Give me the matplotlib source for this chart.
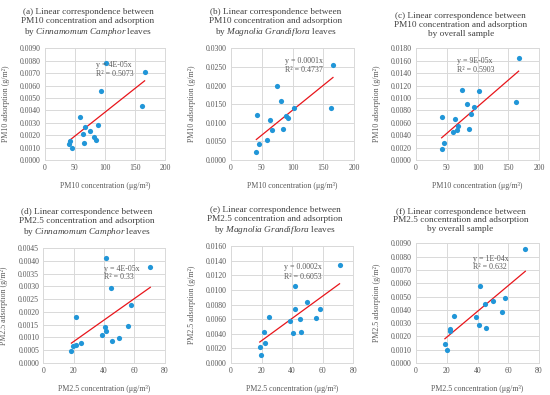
import numpy as np
import matplotlib
matplotlib.use('Agg')
import matplotlib.pyplot as plt
from matplotlib.ticker import MultipleLocator, FormatStrFormatter

plt.rcParams['font.family'] = ['Liberation Serif', 'DejaVu Serif']
plt.rcParams['mathtext.fontset'] = 'custom'
plt.rcParams['mathtext.rm'] = 'Liberation Serif'
plt.rcParams['mathtext.it'] = 'Liberation Serif:italic'

# PM10 concentration (ug/m3) and adsorption (g/m2)
pm10_x_camphor = [101.7, 165.7, 92.8, 160.8, 58.6, 88.4, 67.4, 74.6, 63.0, 81.8, 85.1, 42.0, 40.9, 65.7, 45.3]
pm10_y_camphor = [0.00785, 0.00712, 0.00554, 0.00433, 0.00347, 0.00280, 0.00269, 0.00237, 0.00210,
                  0.00188, 0.00164, 0.00153, 0.00129, 0.00140, 0.00093]
pm10_x_magnolia = [165.4, 75.1, 81.6, 101.6, 161.6, 41.6, 62.7, 88.6, 93.0, 67.0, 84.9, 58.9, 44.9, 41.1]
pm10_y_magnolia = [0.0256, 0.0198, 0.0158, 0.0141, 0.0141, 0.0121, 0.0108, 0.0119, 0.0114, 0.0080,
                   0.0082, 0.0054, 0.0042, 0.0021]
pm10_x_overall = [166.5, 75.1, 102.7, 82.7, 93.5, 162.7, 89.7, 42.2, 63.8, 67.6, 66.5, 59.5, 85.4, 45.4, 41.6]
pm10_y_overall = [0.0164, 0.0112, 0.0111, 0.0090, 0.0086, 0.0093, 0.0074, 0.0069, 0.0066, 0.0055,
                  0.0049, 0.0045, 0.0050, 0.0027, 0.0018]

# PM2.5
pm25_x_camphor = [41.3, 70.5, 44.4, 57.6, 21.5, 55.6, 40.4, 41.5, 38.5, 49.7, 45.5, 24.6, 21.3, 19.8, 18.5]
pm25_y_camphor = [0.00412, 0.00374, 0.00292, 0.00226, 0.00181, 0.00146, 0.00140, 0.00124, 0.00111,
                  0.00096, 0.00086, 0.00080, 0.00072, 0.00066, 0.00047]
pm25_x_magnolia = [71.0, 41.9, 50.0, 41.9, 58.1, 24.9, 38.6, 45.0, 55.9, 21.8, 40.8, 46.1, 22.1, 18.8, 19.9]
pm25_y_magnolia = [0.0135, 0.0105, 0.0083, 0.0074, 0.0074, 0.0063, 0.0057, 0.0060, 0.0062, 0.0043,
                   0.0041, 0.0042, 0.0028, 0.0022, 0.0011]
pm25_x_overall = [71.1, 41.7, 45.0, 50.0, 57.9, 55.9, 24.9, 38.8, 40.8, 45.8, 21.8, 21.8, 18.8, 19.9]
pm25_y_overall = [0.00855, 0.00580, 0.00447, 0.00467, 0.00485, 0.00387, 0.00357, 0.00345, 0.00282,
                  0.00262, 0.00255, 0.00240, 0.00143, 0.00098]

# trendline slopes (intercept 0) and labels
slopes = [3.85e-5, 1.34e-4, 8.6e-5, 4.2e-5, 1.53e-4, 9.7e-5]
eq_labels = ['y = 4E-05x', 'y = 0.0001x', 'y = 9E-05x', 'y = 4E-05x', 'y = 0.0002x', 'y = 1E-04x']
r2_labels = ['R² = 0.5073', 'R² = 0.4737', 'R² = 0.5903', 'R² = 0.33', 'R² = 0.6053', 'R² = 0.632']

titles = [
    '(a) Linear correspondence between\nPM10 concentration and adsorption\nby $\\it{Cinnamomum\\ Camphor}$ leaves',
    '(b) Linear correspondence between\nPM10 concentration and adsorption\nby $\\it{Magnolia\\ Grandiflora}$ leaves',
    '(c) Linear correspondence between\nPM10 concentration and adsorption\nby overall sample',
    '(d) Linear correspondence between\nPM2.5 concentration and adsorption\nby $\\it{Cinnamomum\\ Camphor}$ leaves',
    '(e) Linear correspondence between\nPM2.5 concentration and adsorption\nby $\\it{Magnolia\\ Grandiflora}$ leaves',
    '(f) Linear correspondence between\nPM2.5 concentration and adsorption\nby overall sample',
]

W, H = 550, 395
# axes boxes in pixels: left, top, right, bottom
boxes = [(44.7, 48.3, 165.3, 160), (231, 48.3, 354.3, 160), (416, 48.3, 539.3, 160),
         (43.3, 248, 164.7, 363), (231, 246.3, 353.3, 363), (416, 243.3, 539, 363)]
ylims = [(0.009, 0.001), (0.03, 0.005), (0.018, 0.002), (0.0045, 0.0005), (0.016, 0.002), (0.009, 0.001)]
text_pos = [(0.425, 0.85, 0.77), (0.438, 0.889, 0.81), (0.333, 0.889, 0.81),
            (0.50, 0.82, 0.745), (0.433, 0.823, 0.74), (0.46, 0.871, 0.80)]

data = [(pm10_x_camphor, pm10_y_camphor), (pm10_x_magnolia, pm10_y_magnolia),
        (pm10_x_overall, pm10_y_overall), (pm25_x_camphor, pm25_y_camphor),
        (pm25_x_magnolia, pm25_y_magnolia), (pm25_x_overall, pm25_y_overall)]

fig = plt.figure(figsize=(W / 100, H / 100), dpi=100)
grid_c = '#d9d9d9'
txt_c = '#595959'

for i in range(6):
    l, t, r, b = boxes[i]
    ax = fig.add_axes([l / W, 1 - b / H, (r - l) / W, (b - t) / H])
    x = np.array(data[i][0])
    y = np.array(data[i][1])
    pm10 = i < 3
    xmax = 200 if pm10 else 80
    ymax, ystep = ylims[i]
    ax.set_xlim(0, xmax)
    ax.set_ylim(0, ymax)
    ax.xaxis.set_major_locator(MultipleLocator(50 if pm10 else 20))
    ax.yaxis.set_major_locator(MultipleLocator(ystep))
    ax.yaxis.set_major_formatter(FormatStrFormatter('%.4f'))
    ax.grid(True, color=grid_c, lw=0.7)
    ax.set_axisbelow(True)
    for s in ax.spines.values():
        s.set_color(grid_c)
        s.set_linewidth(0.7)
    ax.tick_params(length=0, labelsize=5.6, colors=txt_c, pad=3)

    ax.scatter(x, y, s=14, color='#2196d8', zorder=3, linewidths=0)
    xs = np.array([x.min(), x.max()])
    ax.plot(xs, slopes[i] * xs, color='#e8151b', lw=0.9, zorder=2)

    tx, ty1, ty2 = text_pos[i]
    ax.text(tx, ty1, eq_labels[i], transform=ax.transAxes, fontsize=5.7, color=txt_c, va='center')
    ax.text(tx, ty2, r2_labels[i], transform=ax.transAxes, fontsize=5.7, color=txt_c, va='center')

    pm = 'PM10' if pm10 else 'PM2.5'
    ax.set_xlabel(pm + ' concentration (μg/m³)', fontsize=5.7, color=txt_c)
    ax.set_ylabel(pm + ' adsorption (g/m²)', fontsize=5.7, color=txt_c)
    wpx, hpx = r - l, b - t
    ax.xaxis.set_label_coords(0.5, -22 / hpx)
    ax.yaxis.set_label_coords(-35 / wpx, 0.5)

    ax.text((-17 + wpx / 2) / wpx, 1 + 10 / hpx, titles[i], transform=ax.transAxes,
            ha='center', va='bottom', fontsize=6.7, color='#404040', linespacing=1.15)

fig.savefig('out.png', dpi=100, facecolor='white')
